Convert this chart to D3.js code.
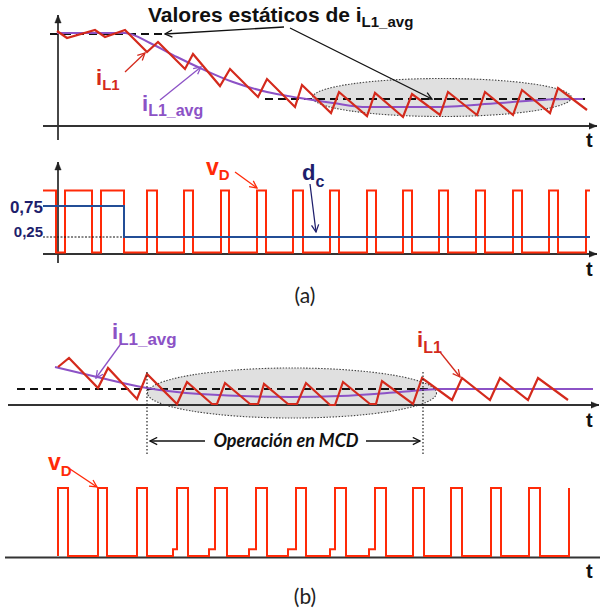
<!DOCTYPE html>
<html>
<head>
<meta charset="utf-8">
<script src="https://cdn.jsdelivr.net/npm/d3@7"></script>
<style>
body{margin:0;background:#fff;}
svg{display:block;font-family:"Liberation Sans",Arial,sans-serif;}
</style>
</head>
<body>
<div id="chart"></div>
<script>
//=================== DATA ====================================
// t = time units from the vertical axis, i = current above the t axis,
// vD / dc = normalised level (0 = low, 1 = high)

// (a) inductor current with a step in the duty cycle
var iL1A = [[-1,95],[9,88],[37,96],[47,89],[67,96],[89,74],[100,84],[127,57],[135,72],
	[162,40],[172,57],[200,29],[209,47],[237,19],[244,41],[273,13],[281,34],[309,10],
	[317,33],[345,9],[354,32],[382,11],[390,34],[419,11],[427,34],[455,11],[464,36],
	[492,13],[500,38],[529,16]];
var iAvgA = [[-1,93],[67,93],[92,83],[119,69],[142,58],[175,44],[209,34],[242,28],
	[275,23],[309,19],[375,19],[442,23],[509,27],[525,27]];
var staticA = [[-8,107,92],[207,532,27]];          // [t0, t1, i]
var ellA = [384, 28.5, 129.5, 19];                 // [t, i, half width, half height]

// (a) diode voltage and duty cycle
var vDA = [[-15,1],[-2,0],[7,1],[34,0],[43,1],[66,0],[89,1],[99,0],[126,1],[135,0],
	[163,1],[171,0],[199,1],[208,0],[235,1],[245,0],[272,1],[281,0],[309,1],[318,0],
	[345,1],[354,0],[381,1],[390,0],[418,1],[427,0],[455,1],[464,0],[491,1],[500,0],
	[528,1],[532,1]];
var dcA = [[-15,0.75],[66,0.25],[532,0.25]];
var dutyTicks = [0.75, 0.25];

// (b) inductor current entering DCM
var iL1B = [[0,38],[11,47],[40,17],[50,37],[79,6],[89,31],[119,1],[129,23],[154,1],
	[159,1],[167,22],[192,1],[200,1],[206,21],[230,1],[239,1],[248,22],[272,0],[277,0],
	[285,23],[312,1],[318,1],[324,24],[355,1],[364,27],[394,5],[404,27],[432,5],
	[442,27],[470,5],[480,27],[510,5]];
var iAvgB = [[-3,38],[39,28],[89,17],[142,11],[232,8],[282,9],[342,13],[382,16],
	[422,16],[535,16]];
var staticB = [[-41,455,16]];
var ellB = [234, 12, 144.5, 25];
var mcdLimits = [89, 365];

// (b) diode voltage
var vDB = [[0,0],[0,1],[10,0],[40,1],[49,0],[79,1],[89,0],[115,0.1],[119,1],[130,0],
	[151,0.1],[157,1],[169,0],[191,0.1],[198,1],[209,0],[230,0.1],[238,1],[248,0],
	[272,0.1],[277,1],[288,0],[311,0.1],[317,1],[328,0],[355,1],[366,0],[393,1],
	[404,0],[433,1],[443,0],[471,1],[482,0],[511,1]];

//=================== SETUP ====================================

var width = 601, height = 613;
var red = "#d42a1c", vRed = "#ff2a08", purple = "#8c52c6", navy = "#1e1e6c", blue = "#234e96";
var calibriLike = "Lato, 'Open Sans', sans-serif";

var svg = d3.select("#chart").append("svg")
	.attr("width", width)
	.attr("height", height);

var defs = svg.append("defs");
function marker(id, color, filled) {
	defs.append("marker")
		.attr("id", id)
		.attr("viewBox", "0 0 10 10")
		.attr("refX", filled ? 10 : 9).attr("refY", 5)
		.attr("markerWidth", 9).attr("markerHeight", filled ? 8 : 9)
		.attr("markerUnits", "userSpaceOnUse")
		.attr("orient", "auto")
		.append("path")
		.attr("d", filled ? "M0,1L10,5L0,9Z" : "M1,1L9,5L1,9")
		.attr("fill", filled ? color : "none")
		.attr("stroke", color)
		.attr("stroke-width", filled ? 0.5 : 1.4);
}
marker("axArrow", "#222", true);
marker("blackArr", "#111", false);
marker("redArr", red, false);
marker("vArr", vRed, false);
marker("purArr", purple, false);
marker("navyArr", navy, false);

// shared time scale, one value scale per trace
var x = d3.scaleLinear().domain([0, 540]).range([58, 598]);
var yA1 = d3.scaleLinear().domain([0, 100]).range([126, 26]);
var yA2 = d3.scaleLinear().domain([0, 1]).range([252.5, 190.5]);
var yB1 = d3.scaleLinear().domain([0, 50]).range([405, 355]);
var yB2 = d3.scaleLinear().domain([0, 1]).range([556, 488]);

var comma = d3.formatLocale({decimal: ",", thousands: ".", grouping: [3], currency: ["", ""]}).format(".2f");

//=================== HELPERS ====================================

function trace(data, y, color, w, curve) {
	var gen = d3.line()
		.x(function(d){ return x(d[0]); })
		.y(function(d){ return y(d[1]); })
		.curve(curve || d3.curveLinear);
	svg.append("path")
		.attr("d", gen(data))
		.attr("fill", "none")
		.attr("stroke", color)
		.attr("stroke-width", w)
		.attr("stroke-linejoin", "miter");
}

function ellipse(e, y) {
	svg.append("ellipse")
		.attr("cx", x(e[0]))
		.attr("cy", y(e[1]))
		.attr("rx", x(e[0] + e[2]) - x(e[0]))
		.attr("ry", y(0) - y(e[3]))
		.attr("fill", "#e0e0e0")
		.attr("stroke", "#444")
		.attr("stroke-width", 1.1)
		.attr("stroke-dasharray", "1.5,1.5");
}

function dashed(list, y) {
	list.forEach(function(s){
		svg.append("line")
			.attr("x1", x(s[0])).attr("x2", x(s[1]))
			.attr("y1", y(s[2])).attr("y2", y(s[2]))
			.attr("stroke", "#111")
			.attr("stroke-width", 2)
			.attr("stroke-dasharray", "8,5");
	});
}

function axisLine(x1, y1, x2, y2, arrow) {
	svg.append("line")
		.attr("x1", x1).attr("y1", y1).attr("x2", x2).attr("y2", y2)
		.attr("stroke", "#333")
		.attr("stroke-width", 1.8)
		.attr("marker-end", arrow ? "url(#axArrow)" : null);
}

function pointer(x1, y1, x2, y2, color, id) {
	svg.append("line")
		.attr("x1", x1).attr("y1", y1).attr("x2", x2).attr("y2", y2)
		.attr("stroke", color)
		.attr("stroke-width", 1.3)
		.attr("marker-end", "url(#" + id + ")");
}

// symbol with subscript
function label(px, py, main, sub, color, size, subSize, shift) {
	var t = svg.append("text")
		.attr("x", px).attr("y", py)
		.attr("fill", color)
		.attr("font-weight", "bold")
		.attr("font-size", size);
	t.append("tspan").text(main);
	t.append("tspan").attr("dy", shift).attr("font-size", subSize).text(sub);
}

function tLabel(py) {
	svg.append("text")
		.attr("x", 586).attr("y", py)
		.attr("font-size", 20).attr("font-weight", "bold")
		.attr("fill", "#111")
		.text("t");
}

//=================== PANEL (a) ====================================

ellipse(ellA, yA1);
axisLine(x(-15), yA1(0), x(539), yA1(0), true);
axisLine(x(0), 140, x(0), 15, true);
dashed(staticA, yA1);
trace(iAvgA, yA1, purple, 2, d3.curveMonotoneX);
trace(iL1A, yA1, red, 2.2);

svg.append("text")
	.attr("x", 148).attr("y", 22)
	.attr("font-size", 21).attr("font-weight", "bold").attr("fill", "#111")
	.call(function(t){
		t.append("tspan").text("Valores estáticos de i");
		t.append("tspan").attr("dy", 5).attr("font-size", 15).text("L1_avg");
	});
pointer(284, 27, x(107), yA1(92), "#111", "blackArr");
pointer(290, 28, x(374), yA1(27), "#111", "blackArr");

label(96, 85, "i", "L1", red, 22, 15, 5);
pointer(125, 72, 145, 53, red, "redArr");
label(142, 111, "i", "L1_avg", purple, 22, 16, 5);
pointer(160, 100, 201, 67, purple, "purArr");
tLabel(147);

// diode voltage and duty cycle
axisLine(x(-15), 254, x(539), 254, true);
axisLine(x(0), 263, x(0), 162, true);
trace(vDA, yA2, vRed, 2, d3.curveStepAfter);
svg.append("line")
	.attr("x1", x(-15)).attr("x2", x(66))
	.attr("y1", yA2(0.25)).attr("y2", yA2(0.25))
	.attr("stroke", "#111").attr("stroke-width", 1)
	.attr("stroke-dasharray", "2,1.5");
trace(dcA, yA2, blue, 2, d3.curveStepAfter);

svg.selectAll("text.duty")
	.data(dutyTicks)
	.enter().append("text")
	.attr("class", "duty")
	.attr("x", 43)
	.attr("y", function(d, i){ return yA2(d) + (i == 0 ? 7 : 0); })
	.attr("text-anchor", "end")
	.attr("font-size", function(d, i){ return i == 0 ? 17 : 15; })
	.attr("font-weight", "bold")
	.attr("fill", navy)
	.text(comma);

label(206, 175, "v", "D", vRed, 23, 15, 5);
pointer(235, 172, 257, 188, vRed, "vArr");
label(302, 180, "d", "c", navy, 22, 16, 7);
pointer(310, 184, 316, 232, navy, "navyArr");
tLabel(276);

svg.append("text")
	.attr("x", 305).attr("y", 303)
	.attr("text-anchor", "middle")
	.style("font-family", calibriLike)
	.attr("font-size", 21).attr("fill", "#222")
	.text("(a)");

//=================== PANEL (b) ====================================

ellipse(ellB, yB1);
axisLine(8, yB1(0), 599, yB1(0), true);
dashed(staticB, yB1);
trace(iAvgB, yB1, purple, 2, d3.curveMonotoneX);
trace(iL1B, yB1, red, 2.2);

mcdLimits.forEach(function(t){
	svg.append("line")
		.attr("x1", x(t)).attr("x2", x(t))
		.attr("y1", yB1(33)).attr("y2", yB1(-50))
		.attr("stroke", "#222").attr("stroke-width", 1.2)
		.attr("stroke-dasharray", "1.5,2");
});
pointer(205, yB1(-36), x(mcdLimits[0]) + 3, yB1(-36), "#111", "blackArr");
pointer(366, yB1(-36), x(mcdLimits[1]) - 3, yB1(-36), "#111", "blackArr");
svg.append("text")
	.attr("x", 286).attr("y", 447)
	.attr("text-anchor", "middle")
	.style("font-family", calibriLike)
	.attr("font-size", 18).attr("font-weight", "bold").attr("font-style", "italic")
	.attr("fill", "#111")
	.text("Operación en MCD");

label(112, 339, "i", "L1_avg", purple, 22, 17, 6);
pointer(120, 345, 96, 378, purple, "purArr");
label(417, 347, "i", "L1", red, 22, 16, 6);
pointer(440, 352, 460, 377, red, "redArr");
tLabel(427);

// diode voltage
axisLine(5, 557.5, 600, 557.5, false);
trace(vDB, yB2, vRed, 2, d3.curveStepAfter);
label(48, 470, "v", "D", vRed, 23, 15, 6);
pointer(70, 469, 97, 487, vRed, "vArr");
tLabel(578);

svg.append("text")
	.attr("x", 305).attr("y", 604)
	.attr("text-anchor", "middle")
	.style("font-family", calibriLike)
	.attr("font-size", 21).attr("fill", "#222")
	.text("(b)");
</script>
</body>
</html>
